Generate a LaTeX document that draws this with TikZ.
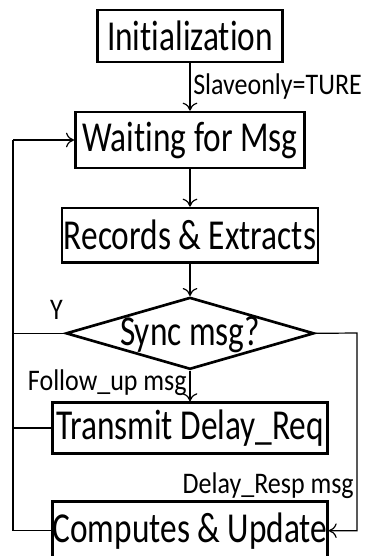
\documentclass[tikz,border=0pt]{standalone}
\usepackage{fontspec}
\setmainfont{Carlito}[Ligatures=NoCommon]
\usetikzlibrary{positioning}
\usetikzlibrary{arrows.meta,shapes.geometric}
\newcommand{\tallbox}[1]{\scalebox{1}[1.28]{#1}}
\newcommand{\talllabel}[1]{\scalebox{1}[1.15]{#1}}
\tikzset{box node/.style={rectangle,draw,line width=2pt,inner sep=0pt,font=\fontsize{25}{28}\selectfont},
         test node/.style={diamond,draw,line width=2pt,aspect=3.4,inner sep=0pt,text height=19pt,text depth=1pt,font=\fontsize{25}{28}\selectfont},
         msg label/.style={font=\fontsize{19.5}{22}\selectfont,inner sep=2pt},
         flow/.style={line width=0.9pt,-{To[length=6pt,width=11pt]}} }

\begin{document}
\begin{tikzpicture}[x=0.75pt,y=-0.75pt]
\useasboundingbox (0,0) rectangle (364,556);
\begin{scope}[on grid]

  \node[box node,minimum width=139pt,minimum height=39pt] (init) at (190,36) {\tallbox{Initialization}};
  \node[box node,minimum width=172pt,minimum height=42pt] (wait) [below =78pt of init] {\tallbox{Waiting for Msg}};
  \node[box node,minimum width=192pt,minimum height=41pt] (rec) [below =71.5pt of wait] {\tallbox{Records \& Extracts}};
  \node[test node,minimum width=186pt,minimum height=54pt] (sync) [below =73.5pt of rec] {\tallbox{Sync msg?}};
  \node[box node,minimum width=206pt,minimum height=38pt] (req) [below =71pt of sync] {\tallbox{Transmit Delay\_Req}};
  \node[box node,minimum width=206pt,minimum height=44pt] (comp) [below =77pt of req] {\tallbox{Computes \& Update}};

  \coordinate (back) at (13,533);
  \coordinate (side) at (357,333);

    \path[flow]
    (init) edge node[msg label,right] {\talllabel{Slaveonly=TURE}} (wait)
    (wait) edge (rec)
    (rec)  edge (sync)
    (sync) edge node[msg label,left,pos=0.4] {\talllabel{Follow\_up msg}} (req)
    ;
     \draw [line width=0.9pt] (comp.west) -- (comp.west -| back) -- (back |- wait.west);
     \draw [flow] (back |- wait.west) -- (wait.west);
     \draw [line width=0.9pt] (sync.west) -- node[msg label,above left,pos=0,yshift=8pt,xshift=1pt] {\talllabel{Y}} (sync.west -| back);
     \draw [line width=0.9pt] (req.west) -- (req.west -| back);
     \draw [flow] (sync.east) -- (side) -- (side |- comp.east)
        node[msg label,left,pos=0.77] {\talllabel{Delay\_Resp msg}} -- (comp.east);
    \end{scope}
\end{tikzpicture}
\end{document}
